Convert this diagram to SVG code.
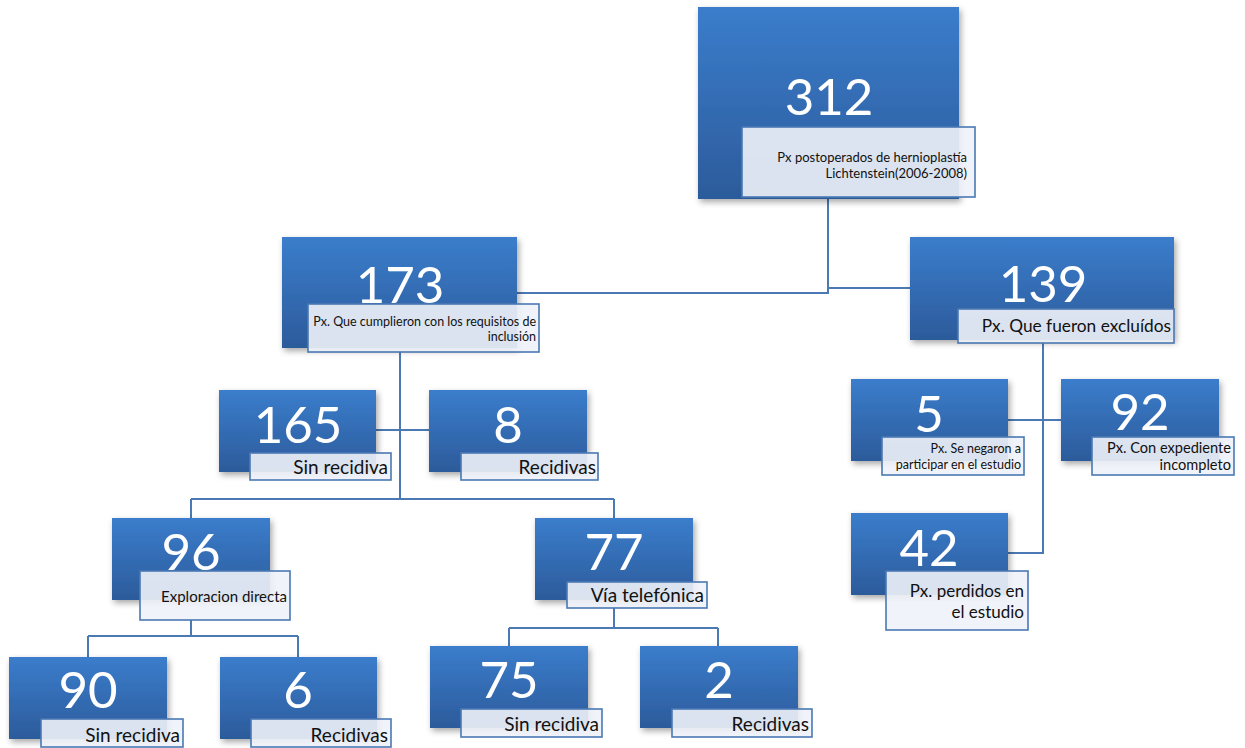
<svg xmlns="http://www.w3.org/2000/svg" width="1245" height="748" viewBox="0 0 1245 748">
<defs>
<linearGradient id="g" x1="0" y1="0" x2="0" y2="1">
<stop offset="0" stop-color="#3b7dcc"/>
<stop offset="1" stop-color="#2c5b9b"/>
</linearGradient>
<filter id="sh" x="-10%" y="-10%" width="130%" height="130%">
<feDropShadow dx="2" dy="3" stdDeviation="3" flood-color="#000" flood-opacity="0.35"/>
</filter>
</defs>
<style>
.b{fill:url(#g);filter:url(#sh)}
.l{fill:#eef2f8;fill-opacity:0.9;stroke:#4a79b3;stroke-width:1.6}
.n{font-family:Lato,"Open Sans",sans-serif;font-size:51px;fill:#fff;text-anchor:middle}
.t{font-family:Lato,"Open Sans",sans-serif;fill:#111;text-anchor:end}
.c{fill:none;stroke:#4a79b3;stroke-width:2}
</style>
<rect width="1245" height="748" fill="#fff"/>
<g id="connectors">
<path class="c" d="M828 199V293H517"/>
<path class="c" d="M828 288H910"/>
<path class="c" d="M400 352V499M376 430H430M191 499H614M191 499V518M614 499V518"/>
<path class="c" d="M191 620V636M88 636H298M88 636V657M298 636V657"/>
<path class="c" d="M614 608V628M509 628H718M509 628V646M718 628V646"/>
<path class="c" d="M1043 343V553H1008M1008 420H1061"/>
</g>
<g id="n312"><rect class="b" x="698" y="7" width="261" height="192"/><text class="n" x="829" y="115">312</text><rect class="l" x="742" y="127" width="233" height="70"/><text class="t" font-size="13"><tspan x="967" y="162">Px postoperados de hernioplastía</tspan><tspan x="967" y="178">Lichtenstein(2006-2008)</tspan></text></g>
<g id="n173"><rect class="b" x="282" y="237" width="235" height="111"/><text class="n" x="400" y="303">173</text><rect class="l" x="308" y="304" width="231" height="48"/><text class="t" font-size="12.5"><tspan x="536" y="326">Px. Que cumplieron con los requisitos de</tspan><tspan x="536" y="341">inclusión</tspan></text></g>
<g id="n139"><rect class="b" x="910" y="237" width="264" height="103"/><text class="n" x="1043" y="302">139</text><rect class="l" x="958" y="309" width="216" height="34"/><text class="t" font-size="17.3" x="1171" y="332">Px. Que fueron excluídos</text></g>
<g id="n165"><rect class="b" x="219" y="390" width="157" height="82"/><text class="n" x="298" y="443">165</text><rect class="l" x="250" y="453" width="141" height="27"/><text class="t" font-size="19" x="388" y="474">Sin recidiva</text></g>
<g id="n8"><rect class="b" x="429" y="390" width="158" height="82"/><text class="n" x="508" y="443">8</text><rect class="l" x="461" y="453" width="137" height="27"/><text class="t" font-size="19" x="596" y="474">Recidivas</text></g>
<g id="n96"><rect class="b" x="112" y="518" width="158" height="82"/><text class="n" x="191" y="570">96</text><rect class="l" x="140" y="571" width="150" height="49"/><text class="t" font-size="15" x="287" y="602">Exploracion directa</text></g>
<g id="n77"><rect class="b" x="535" y="518" width="158" height="82"/><text class="n" x="614" y="570">77</text><rect class="l" x="567" y="582" width="140" height="26"/><text class="t" font-size="19" x="704" y="602">Vía telefónica</text></g>
<g id="n90"><rect class="b" x="9" y="657" width="158" height="82"/><text class="n" x="88" y="708">90</text><rect class="l" x="41" y="719" width="142" height="28"/><text class="t" font-size="19" x="180" y="742">Sin recidiva</text></g>
<g id="n6"><rect class="b" x="220" y="657" width="157" height="82"/><text class="n" x="298" y="708">6</text><rect class="l" x="251" y="719" width="140" height="28"/><text class="t" font-size="19" x="388" y="742">Recidivas</text></g>
<g id="n75"><rect class="b" x="430" y="646" width="158" height="82"/><text class="n" x="509" y="698">75</text><rect class="l" x="461" y="709" width="141" height="28"/><text class="t" font-size="19" x="599" y="731">Sin recidiva</text></g>
<g id="n2"><rect class="b" x="640" y="646" width="158" height="82"/><text class="n" x="719" y="698">2</text><rect class="l" x="672" y="709" width="140" height="28"/><text class="t" font-size="19" x="809" y="731">Recidivas</text></g>
<g id="n5"><rect class="b" x="851" y="379" width="157" height="82"/><text class="n" x="929" y="432">5</text><rect class="l" x="882" y="437" width="142" height="38"/><text class="t" font-size="12.5"><tspan x="1021" y="453">Px. Se negaron a</tspan><tspan x="1021" y="469">participar en el estudio</tspan></text></g>
<g id="n92"><rect class="b" x="1061" y="379" width="158" height="82"/><text class="n" x="1140" y="430">92</text><rect class="l" x="1092" y="437" width="142" height="38"/><text class="t" font-size="14.6"><tspan x="1231" y="453">Px. Con expediente</tspan><tspan x="1231" y="470">incompleto</tspan></text></g>
<g id="n42"><rect class="b" x="851" y="513" width="157" height="82"/><text class="n" x="929" y="566">42</text><rect class="l" x="886" y="571" width="142" height="59"/><text class="t" font-size="17"><tspan x="1024" y="597">Px. perdidos en</tspan><tspan x="1024" y="618">el estudio</tspan></text></g>
</svg>
